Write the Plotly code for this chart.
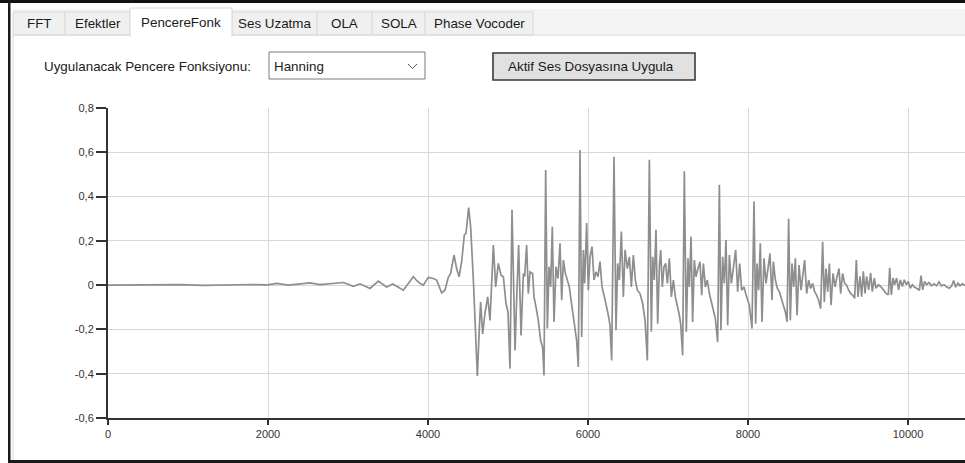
import plotly.graph_objects as go

# ---------------- data ----------------
sample_index = [
    0, 300, 600, 900, 1200, 1500, 1800, 2000, 2108, 2250, 2400, 2525, 2650, 2800,
    2942, 3067, 3150, 3275, 3379, 3483, 3560, 3692, 3817, 3860,
    3900, 3942, 4004, 4067, 4108, 4171, 4212, 4254, 4283, 4325, 4358, 4388, 4421,
    4454, 4475, 4508, 4533, 4567, 4600, 4617, 4642, 4658, 4683, 4712, 4746, 4775,
    4817, 4846, 4879, 4913, 4942, 4975, 5000, 5025, 5050, 5075, 5088, 5108, 5133,
    5163, 5192, 5208, 5233, 5254,
    5275, 5308, 5325, 5350, 5379, 5408, 5433, 5450, 5471, 5492, 5513, 5533, 5554,
    5575, 5600, 5625, 5650, 5671, 5692, 5717, 5742, 5767, 5788, 5808, 5838, 5858,
    5879, 5900, 5921, 5942, 5958, 5983, 6004, 6025, 6050, 6075, 6100, 6125, 6150,
    6175, 6200, 6225, 6250, 6275, 6296, 6325, 6350, 6371, 6392, 6417, 6442, 6463,
    6492, 6517, 6542, 6567, 6592, 6617,
    6650, 6683, 6713, 6742, 6767, 6792, 6808, 6829, 6850, 6871, 6892, 6908, 6929,
    6950, 6971, 6992, 7017, 7042, 7067, 7092, 7117, 7142, 7158, 7183, 7204, 7229,
    7250, 7267, 7288, 7308, 7329, 7350, 7375, 7400, 7421, 7442, 7467, 7492, 7517,
    7542, 7567, 7592, 7621, 7642, 7662, 7683, 7704, 7725, 7746, 7767, 7792, 7817,
    7846, 7871, 7896, 7921, 7950, 7983, 8017,
    8050, 8075, 8096, 8113, 8133, 8154, 8175, 8200, 8225, 8250, 8275, 8300, 8317,
    8342, 8367, 8392, 8417, 8442, 8467, 8488, 8508, 8529, 8550, 8571, 8592, 8613,
    8638, 8663, 8683, 8708, 8733, 8758, 8783, 8808, 8833, 8858, 8883, 8908, 8933,
    8954, 8975, 8996, 9017, 9038, 9063, 9088, 9113, 9138, 9158, 9183, 9208, 9233,
    9258, 9283, 9308, 9333, 9354, 9375, 9400,
    9421, 9442, 9463, 9483, 9508, 9533, 9554, 9579, 9600, 9629, 9658, 9692, 9725,
    9754, 9771, 9792, 9813, 9833, 9858, 9883, 9904, 9929, 9954, 9979, 10004, 10029,
    10054, 10079, 10108, 10142, 10163, 10183, 10208, 10233, 10263, 10292, 10325,
    10358, 10388, 10417, 10450, 10483, 10517, 10546, 10571, 10596, 10625, 10650,
    10679, 10713,
]
amplitude = [
    0.0, 0.001, -0.001, 0.002, -0.001, 0.002, 0.003, 0.001, 0.008, 0.0, 0.004, 0.01, 0.002, 0.006,
    0.012, -0.005, 0.006, -0.015, 0.018, -0.008, 0.005, -0.023, 0.038, 0.02,
    0.008, 0.0, 0.035, 0.03, 0.023, -0.035, -0.023, 0.035, 0.053, 0.136, 0.075, 0.038, 0.106,
    0.227, 0.234, 0.35, 0.264, 0.023, -0.25, -0.41, -0.19, -0.076, -0.22, -0.128, -0.053, -0.159,
    0.181, -0.008, 0.098, 0.045, 0.038, -0.083, -0.121, -0.378, 0.34, -0.19, -0.295, -0.068, 0.181,
    -0.227, 0.053, 0.038, 0.181, -0.038,
    0.06, 0.053, -0.053, -0.098, -0.159, -0.25, -0.28, -0.408, 0.52, -0.196, 0.083, -0.008, 0.264,
    -0.166, 0.083, 0.03, 0.189, -0.068, 0.113, 0.053, 0.023, -0.008, -0.068, -0.121, -0.189, -0.25,
    -0.37, 0.61, -0.234, 0.159, 0.008, 0.28, -0.023, 0.128, 0.174, 0.023, 0.06, 0.038, 0.106,
    -0.008, -0.045, -0.083, -0.128, -0.181, -0.34, 0.58, -0.204, 0.098, 0.023, 0.242, -0.053, 0.159,
    0.075, 0.128, -0.008, 0.136, 0.023, -0.023,
    -0.038, -0.083, -0.159, -0.34, 0.566, -0.211, 0.128, 0.023, 0.25, -0.174, 0.083, 0.159, -0.008,
    0.083, 0.098, 0.008, 0.121, -0.053, 0.023, -0.053, -0.091, -0.136, -0.174, -0.317, 0.514, -0.211,
    0.121, -0.008, 0.219, -0.166, 0.113, 0.038, 0.075, 0.106, -0.045, 0.098, -0.008, 0.023, -0.038,
    -0.076, -0.113, -0.151, -0.257, 0.453, -0.204, 0.128, 0.008, 0.204, -0.181, 0.136, 0.008, 0.091,
    0.159, -0.03, 0.098, -0.023, -0.008, -0.053, -0.091,
    -0.196, 0.378, -0.174, 0.098, -0.023, 0.189, -0.166, 0.121, 0.008, 0.068, 0.143, -0.068, 0.106,
    0.023, -0.015, -0.03, -0.06, -0.083, -0.121, -0.166, 0.3, -0.159, 0.098, -0.008, 0.121, -0.136,
    0.091, -0.023, 0.053, 0.113, -0.038, 0.023, -0.015, 0.008, -0.03, -0.045, -0.068, -0.106, 0.196,
    -0.076, 0.075, -0.03, 0.098, -0.091, 0.053, -0.008, 0.038, 0.075, -0.038, 0.053, 0.008, 0.0,
    -0.023, -0.038, -0.045, -0.06, 0.113, -0.053, 0.04,
    -0.052, 0.062, -0.037, 0.04, -0.021, 0.055, -0.029, 0.032, -0.014, 0.002, -0.006, -0.021, -0.037,
    -0.044, 0.078, -0.044, 0.032, 0.002, 0.032, -0.021, 0.024, -0.006, 0.024, 0.002, 0.017, -0.014,
    0.002, -0.009, -0.014, -0.024, 0.043, -0.021, 0.017, 0.002, 0.012, -0.003, 0.006,
    -0.003, 0.015, -0.003, 0.002, -0.009, -0.014, -0.003, 0.021, -0.009, 0.009, -0.003,
    0.006, 0.0,
]

x_ticks = [0, 2000, 4000, 6000, 8000, 10000]
x_tick_labels = ["0", "2000", "4000", "6000", "8000", "10000"]
y_ticks = [-0.6, -0.4, -0.2, 0, 0.2, 0.4, 0.6, 0.8]
y_tick_labels = ["-0,6", "-0,4", "-0,2", "0", "0,2", "0,4", "0,6", "0,8"]

tab_names = ["FFT", "Efektler", "PencereFonk", "Ses Uzatma", "OLA", "SOLA", "Phase Vocoder"]
active_tab = "PencereFonk"
label_text = "Uygulanacak Pencere Fonksiyonu:"
combo_text = "Hanning"
button_text = "Aktif Ses Dosyasına Uygula"

# ---------------- layout helpers ----------------
W, H = 965, 463
L, R, T, B = 108, 965, 108, 418


def px(xp):
    return (xp - L) / (R - L)


def py(yp):
    return (B - yp) / (B - T)


FONT = "Liberation Sans, Arial, sans-serif"
UI_SIZE = 13.4

fig = go.Figure()
fig.add_trace(go.Scatter(
    x=sample_index, y=amplitude, mode="lines",
    line=dict(color="#8e8e8e", width=1.7), hoverinfo="skip", showlegend=False,
))

shapes = []


def rect(x0, y0, x1, y1, fill, line_color=None, lw=1, layer="above"):
    shapes.append(dict(
        type="rect", xref="paper", yref="paper",
        x0=px(x0), x1=px(x1), y0=py(y0), y1=py(y1),
        fillcolor=fill, line=dict(color=line_color or fill, width=lw if line_color else 0),
        layer=layer,
    ))


def hline(x0, x1, y, color, lw=1):
    shapes.append(dict(type="line", xref="paper", yref="paper",
                       x0=px(x0), x1=px(x1), y0=py(y), y1=py(y),
                       line=dict(color=color, width=lw), layer="above"))


def vline(x, y0, y1, color, lw=1):
    shapes.append(dict(type="line", xref="paper", yref="paper",
                       x0=px(x), x1=px(x), y0=py(y0), y1=py(y1),
                       line=dict(color=color, width=lw), layer="above"))


# tab strip background
rect(13, 9, 965, 35, "#f4f4f4")
# tabs
tab_edges = [13, 65, 130, 232, 317, 372, 425, 533]
annotations = []
for i, name in enumerate(tab_names):
    x0, x1 = tab_edges[i], tab_edges[i + 1]
    if name == active_tab:
        continue
    rect(x0, 12, x1, 35, "#f0f0f0", "#d9d9d9", 1)
    annotations.append(dict(text=name, x=px((x0 + x1) / 2), y=py(24), xref="paper", yref="paper",
                            showarrow=False, xanchor="center", yanchor="middle",
                            font=dict(family=FONT, size=UI_SIZE, color="#1a1a1a")))
# panel border
hline(13, 965, 35, "#d9d9d9")
vline(13, 35, 460, "#d9d9d9")
# active tab
ia = tab_names.index(active_tab)
rect(tab_edges[ia], 8, tab_edges[ia + 1], 36, "#ffffff", "#d9d9d9", 1)
rect(tab_edges[ia] + 1, 34, tab_edges[ia + 1] - 1, 37, "#ffffff")
annotations.append(dict(text=active_tab, x=px((tab_edges[ia] + tab_edges[ia + 1]) / 2), y=py(22),
                        xref="paper", yref="paper", showarrow=False, xanchor="center", yanchor="middle",
                        font=dict(family=FONT, size=UI_SIZE, color="#1a1a1a")))

# label
annotations.append(dict(text=label_text, x=px(42), y=py(66), xref="paper", yref="paper",
                        showarrow=False, xanchor="left", yanchor="middle",
                        font=dict(family=FONT, size=UI_SIZE, color="#1a1a1a")))
# combobox
rect(269, 52, 425, 79, "#ffffff", "#7a7a7a", 1)
annotations.append(dict(text=combo_text, x=px(272), y=py(66), xref="paper", yref="paper",
                        showarrow=False, xanchor="left", yanchor="middle",
                        font=dict(family=FONT, size=UI_SIZE, color="#1a1a1a")))
shapes.append(dict(type="path", xref="paper", yref="paper",
                   path="M {} {} L {} {} L {} {}".format(px(408), py(64), px(412.5), py(68.5), px(417), py(64)),
                   line=dict(color="#555555", width=1), layer="above"))
# button
rect(493, 53, 695, 80, "#e1e1e1", "#3a3a3a", 1.6)
annotations.append(dict(text=button_text, x=px(591), y=py(67), xref="paper", yref="paper",
                        showarrow=False, xanchor="center", yanchor="middle",
                        font=dict(family=FONT, size=UI_SIZE, color="#1a1a1a")))

# outer screenshot frame
rect(0, 0, 965, 3, "#111111")
rect(8, 0, 10.5, 463, "#1a1a1a")
rect(8, 460, 965, 463, "#1a1a1a")

axis_common = dict(
    showgrid=True, gridcolor="#d8d8d8", gridwidth=1,
    showline=True, linecolor="#333333", linewidth=2,
    ticks="outside", tickcolor="#333333", tickwidth=1.5,
    tickfont=dict(family=FONT, size=11, color="#333333"),
    zeroline=False, fixedrange=True,
)

fig.update_layout(
    width=W, height=H,
    margin=dict(l=L, r=W - R, t=T, b=H - B, pad=0),
    paper_bgcolor="#ffffff", plot_bgcolor="#ffffff",
    xaxis=dict(range=[0, 10712.5], tickmode="array", tickvals=x_ticks, ticktext=x_tick_labels,
               ticklen=5, **axis_common),
    yaxis=dict(range=[-0.6, 0.8], tickmode="array", tickvals=y_ticks, ticktext=y_tick_labels,
               ticklen=10, **axis_common),
    shapes=shapes, annotations=annotations,
    showlegend=False,
)

fig.write_html(
    "out.html",
    config={"displayModeBar": False},
    post_script="document.body.style.margin='0';document.body.style.overflow='hidden';",
)
